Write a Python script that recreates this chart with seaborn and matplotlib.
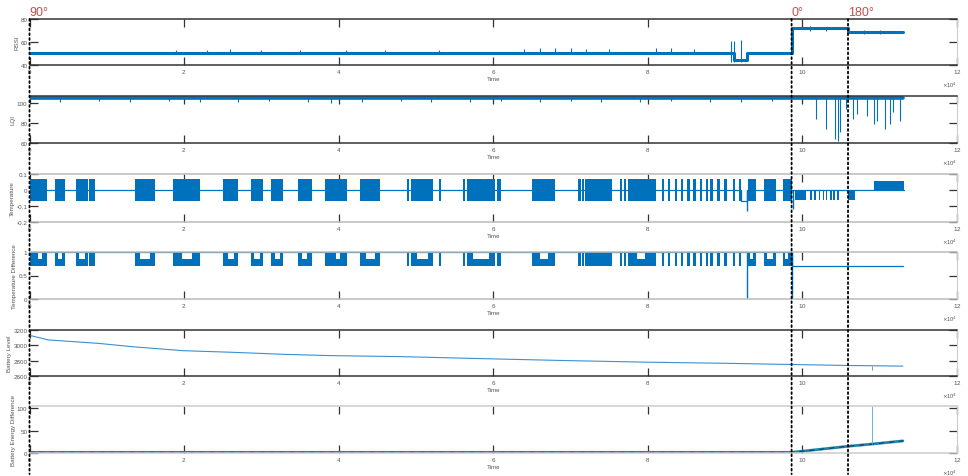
import numpy as np
import pandas as pd
import seaborn as sns
import matplotlib.pyplot as plt
from matplotlib.patches import ConnectionPatch
from matplotlib.transforms import blended_transform_factory

sns.set_theme(style="white")
plt.rcParams['font.family'] = ['Liberation Sans', 'DejaVu Sans']
plt.rcParams['axes.unicode_minus'] = False

S = 1e4  # readings below are in units of 10^4
BLUE = '#0072BD'

# angle markers
mark_t = [0.0, 9.86, 10.59]
mark_lbl = ['90°', '0°', '180°']

# RSSI
rssi_t = [0, 9.12, 9.28, 9.86, 10.59, 11.30]
rssi_v = [50.5, 44.5, 50.5, 72.0, 69.0, 69.0]
rssi_spk_t = [1.9, 2.3, 2.6, 3.0, 3.5, 4.1, 4.6, 5.3, 6.4, 6.6, 6.8, 7.0, 7.2, 7.5,
              8.1, 8.3, 8.6, 9.08, 9.12, 9.20, 10.1, 10.3, 10.8, 11.0]
rssi_spk_lo = [50, 50, 50, 50, 50, 50, 50, 50, 50, 50, 50, 50, 50, 50,
               50, 50, 50, 43, 43, 43, 70, 70, 67, 67]
rssi_spk_hi = [53, 53, 53.5, 53, 53, 53, 53, 53, 54, 54.5, 55, 54.5, 54, 54,
               55, 54.5, 54, 60.7, 61, 62, 73.5, 73, 70.5, 70.5]

# LQI
lqi_t = [0, 11.30]
lqi_v = [105, 105]
lqi_spk_t = [0.4, 0.9, 1.3, 1.8, 2.2, 2.7, 3.1, 3.6, 3.9, 4.3, 4.8, 5.2, 5.7, 6.1, 6.6,
             7.0, 7.4, 7.9, 8.3, 8.8, 9.2, 9.6,
             10.18, 10.30, 10.42, 10.46, 10.49, 10.57, 10.66, 10.70, 10.83, 10.92,
             10.96, 11.07, 11.13, 11.17, 11.26]
lqi_spk_lo = [101, 102, 101, 102, 101, 101, 102, 101, 100, 101, 102, 101, 101, 102, 101,
              102, 101, 101, 102, 101, 101, 102,
              84, 74, 64, 62, 71, 94, 84, 89, 87, 79, 82, 74, 79, 91, 82]

# Temperature
temp_blk_start = [0.00, 0.33, 0.60, 1.36, 1.90, 2.50, 2.86, 3.13, 3.47, 3.82, 4.32, 4.94,
                  5.66, 6.54, 7.21, 7.77, 9.30, 9.50, 9.75]
temp_blk_end = [0.22, 0.46, 0.76, 1.62, 2.20, 2.70, 3.02, 3.28, 3.65, 4.11, 4.54, 5.22,
                6.02, 6.80, 7.54, 8.11, 9.40, 9.66, 9.86]
temp_thin = [0.77, 0.80, 0.82, 1.86, 4.28, 4.88, 5.30, 5.61, 6.05, 6.07, 6.50, 6.53,
             7.10, 7.15, 7.19, 7.64, 7.69, 7.74, 8.18, 8.26, 8.35, 8.43, 8.51, 8.59,
             8.67, 8.75, 8.81, 8.90, 8.99, 9.10, 9.18]
temp_neg_start = [9.90, 10.59]
temp_neg_end = [10.05, 10.68]
temp_neg_thin = [10.10, 10.15, 10.21, 10.26, 10.30, 10.36, 10.40, 10.45]
temp_pos_start = [10.92]
temp_pos_end = [11.31]
temp_line_t = [0, 9.20, 9.28, 11.31]
temp_line_v = [0, -0.07, 0, 0]
temp_spk_t = [9.28, 9.88]
temp_spk_lo = [-0.13, -0.12]

# Temperature difference
td_line_t = [0, 9.86, 11.30]
td_line_v = [1.0, 0.7, 0.7]
td_notch_start = [0.11, 0.37, 0.64, 1.43, 1.97, 2.57, 2.90, 3.18, 3.52, 3.97, 4.36, 5.01,
                  5.74, 6.60, 7.86, 9.32, 9.54, 9.77]
td_notch_end = [0.16, 0.42, 0.72, 1.56, 2.10, 2.64, 2.98, 3.24, 3.59, 4.02, 4.47, 5.16,
                5.94, 6.71, 7.96, 9.36, 9.62, 9.81]
td_spk_t = [9.28, 9.87]

# Battery level
bat_t = [0, 0.24, 0.91, 1.34, 1.99, 2.63, 3.28, 3.89, 4.79, 6.0, 6.95, 8.0, 8.93,
         9.86, 10.6, 11.3]
bat_v = [3131, 3071, 3024, 2981, 2930, 2909, 2883, 2866, 2853, 2823, 2801, 2780, 2767,
         2750, 2737, 2729]
bat_spk_t = [10.9]
bat_spk_lo = [2673]

# Battery energy difference
bd_t = [0, 9.86, 10.59, 10.9, 11.3]
bd_v = [1.5, 1.5, 15, 20, 27]
bd_spk_t = [10.9]
bd_spk_hi = [105]

panels = [
    ('RSSI', (40, 80), [40, 60, 80], ['40', '60', '80'], '#333333'),
    ('LQI', (60, 107), [60, 80, 100], ['60', '80', '100'], '#333333'),
    ('Temperature', (-0.2, 0.1), [-0.2, -0.1, 0, 0.1], ['-0.2', '-0.1', '0', '0.1'], '#bbbbbb'),
    ('Temperature Difference', (0, 1), [0, 0.5, 1], ['0', '0.5', '1'], '#bbbbbb'),
    ('Battery Level', (2600, 3200), [2600, 2800, 3000, 3200],
     ['2600', '2800', '3000', '3200'], '#333333'),
    ('Battery Energy Difference', (0, 105), [0, 50, 100], ['0', '50', '100'], '#cccccc'),
]
tops = [20, 97, 175, 253, 331, 407]
bots = [66, 144, 223, 300, 377, 454]

W, H = 968, 477
fig = plt.figure(figsize=(W / 100, H / 100), dpi=100)
left, right = 29.5, 957
axes = []
for (lbl, ylim, yt, ytl, sc), t0, b0 in zip(panels, tops, bots):
    ax = fig.add_axes([left / W, 1 - b0 / H, (right - left) / W, (b0 - t0) / H])
    ax.set_xlim(0, 12 * S)
    ax.set_ylim(*ylim)
    ax.set_xticks(np.arange(0, 13, 2) * S)
    ax.set_yticks(yt)
    ax.set_yticklabels(ytl)
    ax.ticklabel_format(axis='x', style='sci', scilimits=(4, 4), useMathText=True)
    ax.tick_params(direction='in', length=5.5, width=0.9, color='#333333',
                   labelcolor='#555555', labelsize=4.5, pad=1.5, top=True, right=True,
                   bottom=True, left=True)
    ax.xaxis.get_offset_text().set_fontsize(4)
    ax.xaxis.get_offset_text().set_color('#555555')
    ax.set_xlabel('Time', fontsize=4.5, labelpad=0.5, color='#555555')
    ax.set_ylabel(lbl, fontsize=4.5, labelpad=1, color='#555555')
    for s in ['top', 'bottom']:
        ax.spines[s].set_color(sc)
        ax.spines[s].set_linewidth(1.1)
    ax.spines['left'].set_visible(False)
    ax.spines['right'].set_color('#cccccc')
    ax.spines['right'].set_linewidth(0.8)
    ax.grid(False)
    axes.append(ax)

sx = lambda v: np.asarray(v) * S

# RSSI
ax = axes[0]
sns.lineplot(x=sx(rssi_t), y=rssi_v, ax=ax, color=BLUE, lw=2.2, drawstyle='steps-post')
ax.vlines(sx(rssi_spk_t), rssi_spk_lo, rssi_spk_hi, color=BLUE, lw=0.8)

# LQI
ax = axes[1]
sns.lineplot(x=sx(lqi_t), y=lqi_v, ax=ax, color=BLUE, lw=2.6)
ax.vlines(sx(lqi_spk_t), lqi_spk_lo, 105, color=BLUE, lw=0.8)

# Temperature
ax = axes[2]
sns.lineplot(x=sx(temp_line_t), y=temp_line_v, ax=ax, color=BLUE, lw=0.9,
             drawstyle='steps-post')
bs, be = np.array(temp_blk_start), np.array(temp_blk_end)
ax.bar(bs * S, 0.14, width=(be - bs) * S, bottom=-0.07, align='edge', color=BLUE, lw=0)
ax.bar(sx(temp_thin), 0.14, width=0.03 * S, bottom=-0.07, align='edge', color=BLUE, lw=0)
ns, ne = np.array(temp_neg_start), np.array(temp_neg_end)
ax.bar(ns * S, 0.06, width=(ne - ns) * S, bottom=-0.06, align='edge', color=BLUE, lw=0)
ax.bar(sx(temp_neg_thin), 0.06, width=0.02 * S, bottom=-0.06, align='edge', color=BLUE,
       lw=0)
ps, pe = np.array(temp_pos_start), np.array(temp_pos_end)
ax.bar(ps * S, 0.056, width=(pe - ps) * S, bottom=0, align='edge', color=BLUE, lw=0)
ax.vlines(sx(temp_spk_t), temp_spk_lo, 0, color=BLUE, lw=1.0)

# Temperature difference
ax = axes[3]
sns.lineplot(x=sx(td_line_t), y=td_line_v, ax=ax, color=BLUE, lw=0.9,
             drawstyle='steps-post')
ax.bar(bs * S, 0.3, width=(be - bs) * S, bottom=0.7, align='edge', color=BLUE, lw=0)
ax.bar(sx(temp_thin), 0.3, width=0.03 * S, bottom=0.7, align='edge', color=BLUE, lw=0)
ts, te = np.array(td_notch_start), np.array(td_notch_end)
ax.bar(ts * S, 0.135, width=(te - ts) * S, bottom=0.86, align='edge', color='white', lw=0)
ax.vlines(sx(td_spk_t), 0, 1, color=BLUE, lw=1.0)

# Battery level
ax = axes[4]
sns.lineplot(x=sx(bat_t), y=bat_v, ax=ax, color='#3d8fd0', lw=0.8)
ax.vlines(sx(bat_spk_t), bat_spk_lo, 2735, color='#3d8fd0', lw=0.6)

# Battery energy difference
ax = axes[5]
sns.lineplot(x=sx(bd_t), y=bd_v, ax=ax, color='#1f84b5', lw=2.0)
sns.lineplot(x=sx(bd_t), y=bd_v, ax=ax, color='#222222', lw=0.6, linestyle=(0, (6, 6)))
ax.vlines(sx(bd_spk_t), 20, bd_spk_hi, color='#5aa5d6', lw=0.6)

# angle marker lines across all panels
tr_bot = blended_transform_factory(axes[-1].transData, fig.transFigure)
for t, lbl in zip(mark_t, mark_lbl):
    con = ConnectionPatch(xyA=(t * S, 1), coordsA=axes[0].get_xaxis_transform(),
                          xyB=(t * S, 0.004), coordsB=tr_bot,
                          color='black', lw=1.3, linestyle=':')
    fig.add_artist(con)
    axes[0].text(t * S, 1.03, lbl, transform=axes[0].get_xaxis_transform(),
                 color='#c0504d', fontsize=9, ha='left', va='bottom')

fig.savefig('out.png', dpi=100)
